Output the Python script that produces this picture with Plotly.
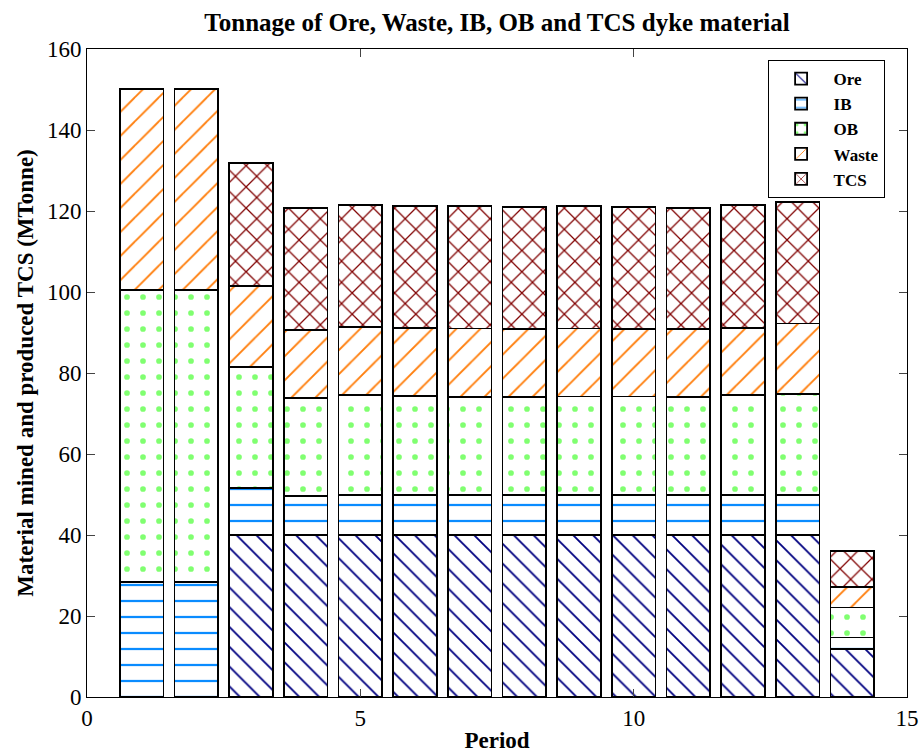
import plotly.graph_objects as go

periods = list(range(1, 15))
ore   = [0, 0, 40, 40, 40, 40, 40, 40, 40, 40, 40, 40, 40, 11.8]
ib    = [28.3, 28.3, 11.6, 9.6, 9.8, 9.8, 9.8, 9.8, 9.8, 9.8, 9.8, 9.8, 9.8, 2.9]
ob    = [72.2, 72.2, 29.9, 24.2, 24.8, 24.6, 24.3, 24.3, 24.4, 24.4, 24.2, 24.8, 25.1, 7.4]
waste = [49.6, 49.6, 20.0, 16.8, 16.8, 16.8, 16.9, 16.8, 16.8, 16.7, 16.9, 16.6, 17.3, 5.1]
tcs   = [0, 0, 30.4, 30.1, 30.1, 30.0, 30.2, 30.0, 30.3, 30.0, 29.9, 30.2, 30.0, 8.9]

series = [
    ("Ore", ore, "\\", "#000080", 14, 0.13),
    ("IB", ib, "-", "#0A8CFF", 16, 0.14),
    ("OB", ob, ".", "#80FF70", 16, 0.10),
    ("Waste", waste, "/", "#FF7F0E", 17, 0.11),
    ("TCS", tcs, "x", "#800000", 15, 0.16),
]

fig = go.Figure()
for name, vals, shape, col, size, sol in series:
    fig.add_trace(go.Bar(
        x=periods, y=vals, name=name, width=0.8,
        marker=dict(color="white",
                    line=dict(color="black", width=1.8),
                    pattern=dict(shape=shape, fgcolor=col, bgcolor="white",
                                 size=size, solidity=sol, fillmode="replace")),
    ))

font = "Liberation Serif, Times New Roman, serif"
fig.update_layout(
    width=924, height=753,
    barmode="stack",
    paper_bgcolor="white", plot_bgcolor="white",
    margin=dict(l=87, r=17, t=49, b=56, autoexpand=False),
    font=dict(family=font, color="black"),
    title=dict(text="<b>Tonnage of Ore, Waste, IB, OB and TCS dyke material</b>",
               x=0.5 * (87 + 907) / 924, xanchor="center", y=1 - 22 / 753, yanchor="middle",
               font=dict(size=25, family=font)),
    showlegend=True,
    legend=dict(x=0.83, y=0.983, xanchor="left", yanchor="top",
                traceorder="normal", bordercolor="black", borderwidth=1,
                bgcolor="white", font=dict(size=17, family=font, weight="bold"),
                tracegroupgap=0, itemwidth=55),
)
fig.update_xaxes(range=[0, 15], tickvals=[0, 5, 10, 15], ticks="inside", ticklen=8,
                 showline=True, linecolor="black", linewidth=1, mirror="ticks",
                 showgrid=False, zeroline=False, tickfont=dict(size=23, family=font),
                 automargin=False,
                 title=dict(text="<b>Period</b>", font=dict(size=23, family=font), standoff=4))
fig.update_yaxes(range=[0, 160], tickvals=list(range(0, 161, 20)), ticks="inside", ticklen=8,
                 showline=True, linecolor="black", linewidth=1, mirror="ticks",
                 showgrid=False, zeroline=False, tickfont=dict(size=23, family=font),
                 automargin=False,
                 title=dict(text="<b>Material mined and produced TCS (MTonne)</b>",
                            font=dict(size=23, family=font), standoff=6))

fig.write_html("out.html")
